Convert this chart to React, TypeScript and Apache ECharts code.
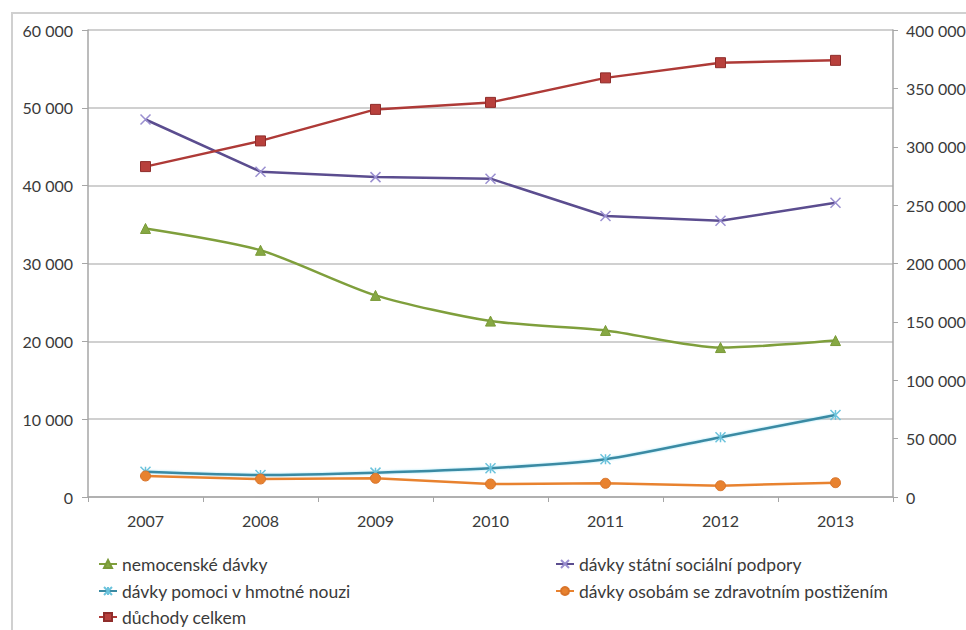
import React, { useEffect, useRef } from "react";
import * as echarts from "echarts";

const years = ["2007", "2008", "2009", "2010", "2011", "2012", "2013"];
const nemocenske = [34500, 31700, 25900, 22600, 21400, 19200, 20100];
const statniPodpora = [48500, 41800, 41100, 40900, 36100, 35500, 37800];
const hmotnaNouze = [3250, 2830, 3130, 3690, 4850, 7680, 10540];
const postizeni = [2700, 2310, 2400, 1670, 1760, 1450, 1840];
const duchody = [283000, 305000, 332000, 338000, 359000, 372000, 374000];

const names = [
  "nemocenské dávky",
  "dávky státní sociální podpory",
  "dávky pomoci v hmotné nouzi",
  "dávky osobám se zdravotním postižením",
  "důchody celkem",
];

const FONT = "Lato, 'Noto Sans', sans-serif";
const TEXT = "#3a3a3a";

const fmt = (v: number) => {
  if (v === 0) return "0";
  const s = String(v);
  return s.replace(/\B(?=(\d{3})+(?!\d))/g, " ");
};

export default function App() {
  const ref = useRef<HTMLDivElement>(null);
  useEffect(() => {
    document.body.style.margin = "0";
    document.body.style.overflow = "hidden";
    const chart = echarts.init(ref.current!, null, { renderer: "svg" });
    const legendCommon = {
      itemWidth: 18,
      itemHeight: 10,
      textStyle: { fontFamily: FONT, fontSize: 17.5, color: TEXT, lineHeight: 16 },
      padding: 0,
    };
    chart.setOption({
      animation: false,
      backgroundColor: "#ffffff",
      graphic: [
        {
          type: "rect",
          shape: { x: 12, y: 13, width: 980, height: 640 },
          style: { fill: "none", stroke: "#d0d0d0", lineWidth: 2 },
          silent: true,
        },
      ],
      legend: [
        { ...legendCommon, data: [names[0]], left: 98, top: 555 },
        { ...legendCommon, data: [names[2]], left: 98, top: 582 },
        { ...legendCommon, data: [names[4]], left: 98, top: 608 },
        { ...legendCommon, data: [names[1]], left: 555, top: 555 },
        { ...legendCommon, data: [names[3]], left: 555, top: 582 },
      ],
      grid: {
        left: 88,
        right: 73,
        top: 30,
        bottom: 133,
        containLabel: false,
        outerBoundsMode: "none",
      },
      xAxis: {
        type: "category",
        data: years,
        boundaryGap: true,
        axisLine: { lineStyle: { color: "#a6a6a6", width: 1.5 } },
        axisTick: { show: true, length: 5, inside: false, lineStyle: { color: "#a6a6a6" } },
        axisLabel: { fontFamily: FONT, fontSize: 16, color: TEXT, margin: 15 },
      },
      yAxis: [
        {
          type: "value",
          min: 0,
          max: 60000,
          interval: 10000,
          position: "left",
          axisLine: { show: true, lineStyle: { color: "#a6a6a6", width: 1.5 } },
          axisTick: { show: true, length: 6, lineStyle: { color: "#a6a6a6" } },
          splitLine: { show: true, lineStyle: { color: "#c0c0c0", width: 1.5 } },
          axisLabel: {
            fontFamily: FONT,
            fontSize: 16,
            color: TEXT,
            margin: 15,
            formatter: (v: number) => fmt(v),
          },
        },
        {
          type: "value",
          min: 0,
          max: 400000,
          interval: 50000,
          position: "right",
          axisLine: { show: true, lineStyle: { color: "#a6a6a6", width: 1.5 } },
          axisTick: { show: true, length: 5, lineStyle: { color: "#a6a6a6" } },
          splitLine: { show: false },
          axisLabel: {
            fontFamily: FONT,
            fontSize: 16,
            color: TEXT,
            margin: 13,
            formatter: (v: number) => fmt(v),
          },
        },
      ],
      series: [
        {
          name: names[0],
          type: "line",
          data: nemocenske,
          yAxisIndex: 0,
          smooth: 0.25,
          symbol: "triangle",
          symbolSize: 10,
          lineStyle: { color: "#7f9f3c", width: 2.5 },
          itemStyle: { color: "#86a843", borderColor: "#7a9a38", borderWidth: 1 },
          z: 3,
        },
        {
          name: names[1],
          type: "line",
          data: statniPodpora,
          yAxisIndex: 0,
          symbol: "path://M0,0L10,10M10,0L0,10",
          symbolSize: 10,
          lineStyle: { color: "#5b4d8f", width: 2.5 },
          itemStyle: { color: "#5b4d8f", borderColor: "#9a8fd0", borderWidth: 1.5 },
          z: 3,
        },
        {
          name: names[2],
          type: "line",
          data: hmotnaNouze,
          yAxisIndex: 0,
          smooth: 0.25,
          symbol: "path://M0,0L10,10M10,0L0,10M5,0L5,10",
          symbolSize: 10,
          lineStyle: { color: "#3a8aa3", width: 2.5, shadowColor: "rgba(100,210,240,0.6)", shadowBlur: 2 },
          itemStyle: { color: "#3a8aa3", borderColor: "#6cc3dc", borderWidth: 1.5 },
          z: 3,
        },
        {
          name: names[3],
          type: "line",
          data: postizeni,
          yAxisIndex: 0,
          symbol: "circle",
          symbolSize: 10,
          lineStyle: { color: "#e8822f", width: 2.5 },
          itemStyle: { color: "#e8822f", borderColor: "#d9742a", borderWidth: 1 },
          z: 4,
        },
        {
          name: names[4],
          type: "line",
          data: duchody,
          yAxisIndex: 1,
          symbol: "rect",
          symbolSize: 10,
          lineStyle: { color: "#ae3a37", width: 2.5 },
          itemStyle: { color: "#b8403c", borderColor: "#8f2d2b", borderWidth: 1 },
          z: 3,
        },
      ],
    });
    return () => chart.dispose();
  }, []);
  return <div ref={ref} style={{ width: 966, height: 630 }} />;
}
